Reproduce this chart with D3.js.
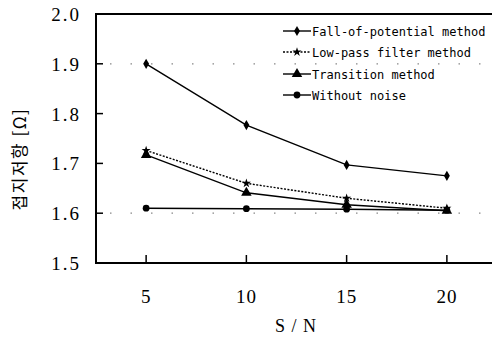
<!DOCTYPE html>
<html>
<head>
<meta charset="utf-8">
<script src="https://cdn.jsdelivr.net/npm/d3@7"></script>
<style>
  body { margin: 0; background: #fff; }
  svg { display: block; }
</style>
</head>
<body>
<div id="viz"></div>
<script>
// S/N values on the x axis
const snLevels = [5, 10, 15, 20];

// grounding resistance for each method
const fallOfPotential = [1.9, 1.777, 1.697, 1.675];
const lowPassFilter = [1.726, 1.66, 1.63, 1.61];
const transitionMethod = [1.717, 1.641, 1.617, 1.605];
const withoutNoise = [1.61, 1.609, 1.608, 1.606];

const seriesNames = [
  "Fall-of-potential method",
  "Low-pass filter method",
  "Transition method",
  "Without noise",
];
const yTicks = [1.5, 1.6, 1.7, 1.8, 1.9, 2.0];
const gridValues = [1.9, 1.6];

function createChart() {
  const width = 496;
  const height = 338;
  const left = 96;
  const right = 492;
  const top = 14;
  const bottom = 263;

  const x = d3.scaleLinear().domain([2.5, 22.5]).range([left, 497]);
  const y = d3.scaleLinear().domain([1.5, 2.0]).range([bottom, top]);

  const svg = d3
    .select("#viz")
    .append("svg")
    .attr("width", width)
    .attr("height", height);

  // dotted grid lines (as in the scan)
  svg
    .selectAll("line.grid")
    .data(gridValues)
    .enter()
    .append("line")
    .classed("grid", true)
    .attr("x1", left + 14)
    .attr("x2", right - 4)
    .attr("y1", (d) => y(d))
    .attr("y2", (d) => y(d))
    .attr("stroke", "#888")
    .attr("stroke-width", 1.2)
    .attr("stroke-dasharray", "1.5,19");

  // frame: top, left and bottom lines
  svg
    .append("path")
    .attr("d", `M${right},${top}H${left}V${bottom}H${right}`)
    .attr("fill", "none")
    .attr("stroke", "#000")
    .attr("stroke-width", 2);

  // y ticks pointing inward
  svg
    .selectAll("line.ytick")
    .data(yTicks.slice(1, -1))
    .enter()
    .append("line")
    .classed("ytick", true)
    .attr("x1", left)
    .attr("x2", left + 7)
    .attr("y1", (d) => y(d))
    .attr("y2", (d) => y(d))
    .attr("stroke", "#000")
    .attr("stroke-width", 1.5);

  // x ticks pointing upward
  svg
    .selectAll("line.xtick")
    .data(snLevels)
    .enter()
    .append("line")
    .classed("xtick", true)
    .attr("x1", (d) => x(d))
    .attr("x2", (d) => x(d))
    .attr("y1", bottom)
    .attr("y2", bottom - 8)
    .attr("stroke", "#000")
    .attr("stroke-width", 1.5);

  // y tick labels
  svg
    .selectAll("text.ylabel")
    .data(yTicks)
    .enter()
    .append("text")
    .classed("ylabel", true)
    .text((d) => d.toFixed(1))
    .attr("x", 81)
    .attr("y", (d) => y(d) + 7)
    .attr("text-anchor", "end")
    .style("font-family", "'Liberation Serif', serif")
    .style("font-size", "19px")
    .style("letter-spacing", "2px");

  // x tick labels
  svg
    .selectAll("text.xlabel")
    .data(snLevels)
    .enter()
    .append("text")
    .classed("xlabel", true)
    .text((d) => d)
    .attr("x", (d) => x(d))
    .attr("y", 303)
    .attr("text-anchor", "middle")
    .style("font-family", "'Liberation Serif', serif")
    .style("font-size", "19px")
    .style("letter-spacing", "1px");

  // axis titles
  svg
    .append("text")
    .text("S / N")
    .attr("x", 296)
    .attr("y", 332)
    .attr("text-anchor", "middle")
    .style("font-family", "'Liberation Serif', serif")
    .style("font-size", "18px")
    .style("letter-spacing", "1px");

  svg
    .append("text")
    .text("접지저항 [Ω]")
    .attr("transform", "translate(26,159) rotate(-90)")
    .attr("text-anchor", "middle")
    .style("font-family", "'Noto Sans CJK KR', sans-serif")
    .style("font-size", "17px")
    .style("letter-spacing", "1.5px");

  const series = [
    { name: seriesNames[0], values: fallOfPotential, symbol: d3.symbolDiamond, size: 30, dash: null },
    { name: seriesNames[1], values: lowPassFilter, symbol: d3.symbolStar, size: 26, dash: "2,1.5" },
    { name: seriesNames[2], values: transitionMethod, symbol: d3.symbolTriangle, size: 48, dash: null },
    { name: seriesNames[3], values: withoutNoise, symbol: d3.symbolCircle, size: 36, dash: null },
  ];

  const line = d3
    .line()
    .x((d, i) => x(snLevels[i]))
    .y((d) => y(d));

  // lines and markers
  series.forEach((s) => {
    svg
      .append("path")
      .attr("d", line(s.values))
      .attr("fill", "none")
      .attr("stroke", "#000")
      .attr("stroke-width", 1.4)
      .attr("stroke-dasharray", s.dash);

    svg
      .selectAll(null)
      .data(s.values)
      .enter()
      .append("path")
      .attr("d", d3.symbol().type(s.symbol).size(s.size))
      .attr("transform", (d, i) => `translate(${x(snLevels[i])},${y(d)})`)
      .attr("fill", "#000");
  });

  // legend
  const legendY = [31, 52, 74, 95];
  const legend = svg
    .selectAll("g.legend")
    .data(series)
    .enter()
    .append("g")
    .classed("legend", true)
    .attr("transform", (d, i) => `translate(283,${legendY[i]})`);

  legend
    .append("line")
    .attr("x1", 0)
    .attr("x2", 28)
    .attr("stroke", "#000")
    .attr("stroke-width", 1.4)
    .attr("stroke-dasharray", (d) => d.dash);

  legend
    .append("path")
    .attr("d", (d) => d3.symbol().type(d.symbol).size(d.size)())
    .attr("transform", "translate(14,0)")
    .attr("fill", "#000");

  legend
    .append("text")
    .text((d) => d.name)
    .attr("x", 29)
    .attr("y", 4.5)
    .style("font-family", "'DejaVu Sans Mono', monospace")
    .style("font-size", "12px");
}

createChart();
</script>
</body>
</html>
